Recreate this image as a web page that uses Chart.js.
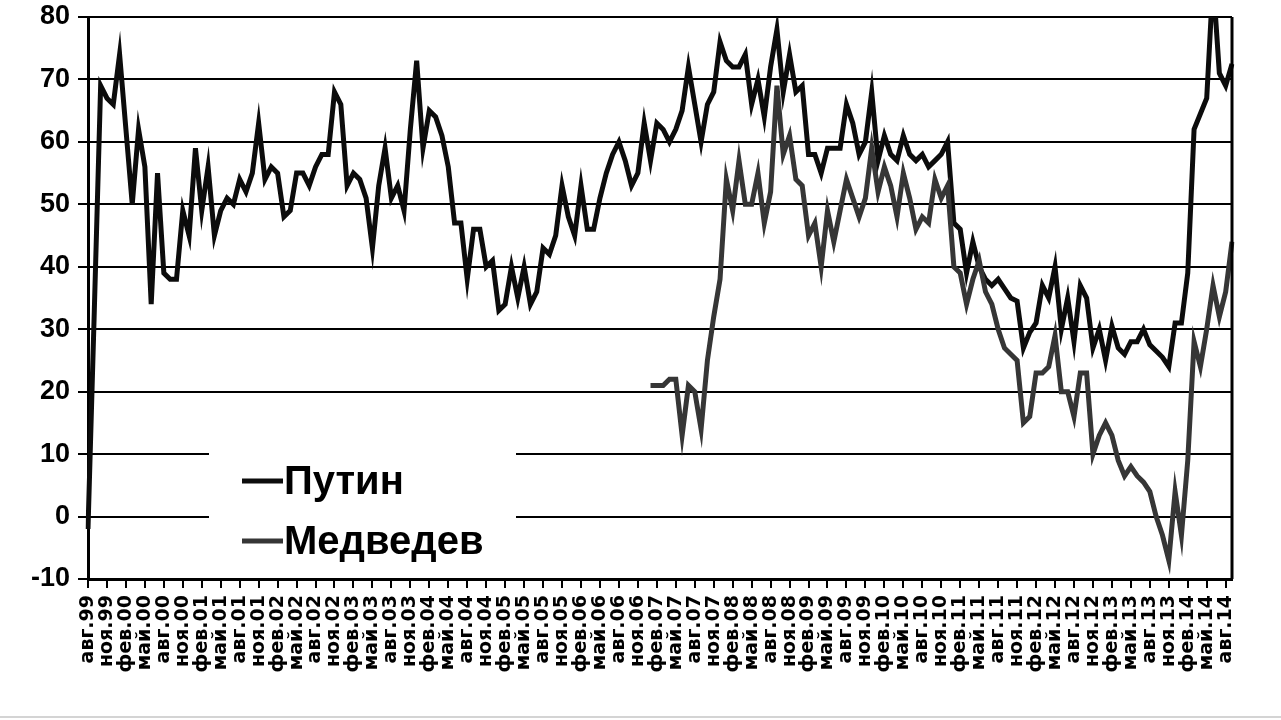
<!DOCTYPE html>
<html>
<head>
<meta charset="utf-8">
<script src="https://cdn.jsdelivr.net/npm/chart.js@4.4.1/dist/chart.umd.min.js"></script>
<style>
  html, body { margin: 0; padding: 0; background: #fff; }
  #wrap { width: 1281px; height: 716px; border-bottom: 2px solid #d4d4d4; }
</style>
</head>
<body>
<div id="wrap"><canvas id="grafico" width="1281" height="716"></canvas></div>
<script>
// месяцы по оси X: с авг.99 по сен.14
const meses = ['янв', 'фев', 'мар', 'апр', 'май', 'июн', 'июл', 'авг', 'сен', 'окт', 'ноя', 'дек'];
const etiquetas = [];
for (let i = 0; i < 182; i++) {
    const m = (7 + i) % 12;
    const y = (1999 + Math.floor((7 + i) / 12)) % 100;
    etiquetas.push(meses[m] + '.' + String(y).padStart(2, '0'));
}

const yTicks = [-10, 0, 10, 20, 30, 40, 50, 60, 70, 80];

const putin = [
    -2, 33, 69, 67, 66, 74, 62, 50, 62, 56, 34, 55,
    39, 38, 38, 49, 45, 59, 49, 56, 45, 49, 51, 50,
    54, 52, 55, 63, 54, 56, 55, 48, 49, 55, 55, 53,
    56, 58, 58, 68, 66, 53, 55, 54, 51, 43, 53, 59,
    51, 53, 49, 62, 73, 59, 65, 64, 61, 56, 47, 47,
    38, 46, 46, 40, 41, 33, 34, 40, 35, 40, 34, 36,
    43, 42, 45, 53, 48, 45, 53, 46, 46, 51, 55, 58,
    60, 57, 53, 55, 63, 57, 63, 62, 60, 62, 65, 72,
    66, 60, 66, 68, 76, 73, 72, 72, 74, 66, 70, 64,
    72, 78, 68, 74, 68, 69, 58, 58, 55, 59, 59, 59,
    66, 63, 58, 60, 68, 57, 61, 58, 57, 61, 58, 57,
    58, 56, 57, 58, 60, 47, 46, 39, 44, 40, 38, 37,
    38, 36.5, 35, 34.5, 27, 29.5, 31, 37, 35, 40, 30, 35,
    28, 37, 35, 27, 30, 25, 30.5, 27, 26, 28, 28, 30,
    27.5, 26.5, 25.5, 24, 31, 31, 39, 62, 64.5, 67, 86, 71,
    69, 72.5
];

const medvedev = new Array(89).fill(null).concat([
    21, 21, 21, 22, 22, 13, 21, 20, 14, 25, 32,
    38, 54, 49, 57, 50, 50, 55, 47, 52, 69, 58, 61,
    54, 53, 45, 47, 40, 49, 44, 49, 54, 51, 48, 51,
    59, 52, 56, 53, 48, 55, 51, 46, 48, 47, 54, 51,
    53, 40, 39, 34, 38, 41, 36, 34, 30, 27, 26, 25,
    15, 16, 23, 23, 24, 29, 20, 20, 16, 23, 23, 10,
    13, 15, 13, 9, 6.5, 8, 6.5, 5.5, 4, 0, -3, -7,
    4, -3, 9, 28, 24, 30, 37, 32, 36, 44
]);

const series = [
    { label: 'Путин', data: putin, color: '#0c0c0c' },
    { label: 'Медведев', data: medvedev, color: '#363636' }
];

// рамка справа и легенда внутри области графика
const legendaInterna = {
    id: 'legendaInterna',
    beforeDatasetsDraw(chart) {
        const ctx = chart.ctx;
        ctx.save();
        ctx.fillStyle = '#fff';
        ctx.fillRect(209, 400, 307, 174);
        ctx.restore();
    },
    afterDraw(chart) {
        const ctx = chart.ctx;
        const area = chart.chartArea;
        ctx.save();
        ctx.strokeStyle = '#000';
        ctx.lineWidth = 3;
        ctx.beginPath();
        ctx.moveTo(area.right, area.top);
        ctx.lineTo(area.right, area.bottom);
        ctx.stroke();

        ctx.font = 'bold 40px "Liberation Sans", Arial, sans-serif';
        ctx.textBaseline = 'middle';
        chart.data.datasets.forEach((ds, i) => {
            const y = 481 + i * 60;
            ctx.strokeStyle = ds.borderColor;
            ctx.lineWidth = 5;
            ctx.beginPath();
            ctx.moveTo(242, y);
            ctx.lineTo(283, y);
            ctx.stroke();
            ctx.fillStyle = '#000';
            ctx.fillText(ds.label, 284, y + 2);
        });
        ctx.restore();
    }
};

const grafico = document.querySelector('#grafico');

new Chart(grafico, {
    type: 'line',
    data: {
        labels: etiquetas,
        datasets: series.map((s, i) => ({
            label: s.label,
            data: s.data,
            borderColor: s.color,
            backgroundColor: s.color,
            borderWidth: 5,
            pointRadius: 0,
            tension: 0,
            fill: false,
            spanGaps: false,
            order: 2 - i
        }))
    },
    options: {
        responsive: false,
        animation: false,
        devicePixelRatio: 1,
        layout: { padding: { top: 17, left: 0, right: 49, bottom: 0 } },
        plugins: {
            legend: { display: false },
            tooltip: { enabled: false }
        },
        scales: {
            x: {
                type: 'category',
                offset: false,
                grid: {
                    drawOnChartArea: false,
                    drawTicks: true,
                    tickLength: 9,
                    lineWidth: 2,
                    color: c => (c.index % 3 === 0 ? '#000' : 'rgba(0,0,0,0)')
                },
                border: { display: true, color: '#000', width: 3 },
                ticks: {
                    autoSkip: false,
                    minRotation: 90,
                    maxRotation: 90,
                    padding: 7,
                    color: '#000',
                    font: { family: '"DejaVu Sans"', weight: 'bold', size: 19 },
                    callback: (v, idx) => (idx % 3 === 0 ? etiquetas[idx] : '')
                },
                afterFit: scale => { scale.height = 716 - 579; }
            },
            y: {
                min: -10,
                max: 80,
                afterBuildTicks: scale => { scale.ticks = yTicks.map(v => ({ value: v })); },
                grid: {
                    color: '#000',
                    lineWidth: 2,
                    tickLength: 10
                },
                border: { display: true, color: '#000', width: 3 },
                ticks: {
                    padding: 8,
                    color: '#000',
                    font: { family: '"Liberation Sans", Arial, sans-serif', weight: 'bold', size: 27 }
                },
                afterFit: scale => {
                    scale.width = 88;
                    scale.paddingTop = 0;
                    scale.paddingBottom = 0;
                }
            }
        }
    },
    plugins: [legendaInterna]
});
</script>
</body>
</html>
